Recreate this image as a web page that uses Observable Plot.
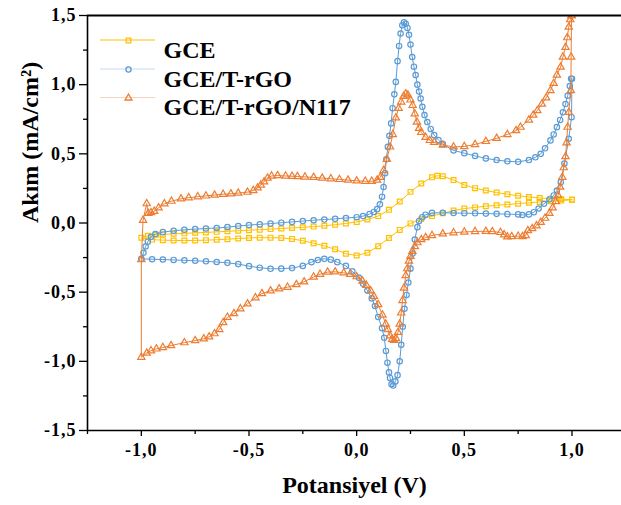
<!DOCTYPE html>
<html><head><meta charset="utf-8">
<script src="https://cdn.jsdelivr.net/npm/d3@7"></script>
<script src="https://cdn.jsdelivr.net/npm/@observablehq/plot@0.6"></script>
<style>
body{margin:0;background:#fff}
#chart{position:relative;width:621px;height:505px}
#chart svg g[aria-label="x-axis tick label"] text, #chart svg g[aria-label="y-axis tick label"] text{letter-spacing:1px}
</style>
</head><body><div id="chart"></div>
<script>
const seriesNames = ["GCE", "GCE/T-rGO", "GCE/T-rGO/N117"];
const seriesColors = ["#FFC000", "#5B9BD5", "#ED7D31"];
const seriesSymbols = ["square", "circle", "triangle"];
const xTicks = [-1, -0.5, 0, 0.5, 1];
const xMinorTicks = [-1.25, -0.75, -0.25, 0.25, 0.75];
const yTicks = [-1.5, -1, -0.5, 0, 0.5, 1, 1.5];
const yMinorTicks = [-1.25, -0.75, -0.25, 0.25, 0.75, 1.25];
const xLabel = "Potansiyel (V)";
const yLabel = "Akım (mA/cm²)";

// [potential V, current mA/cm2] : reverse sweep (1 -> -1) then forward sweep (-1 -> 1)
const gce = [
[1.0,0.168],[0.95,0.162],[0.9,0.157],[0.85,0.152],[0.8,0.146],[0.75,0.140],[0.7,0.134],[0.65,0.128],[0.6,0.121],[0.55,0.113],[0.5,0.104],[0.45,0.090],[0.4,0.070],[0.35,0.050],[0.3,0.028],[0.25,-0.003],[0.2,-0.050],[0.15,-0.108],[0.1,-0.168],[0.05,-0.215],[0.0,-0.235],[-0.05,-0.222],[-0.1,-0.19],[-0.15,-0.165],[-0.2,-0.146],[-0.25,-0.128],[-0.3,-0.115],[-0.35,-0.108],[-0.4,-0.106],[-0.45,-0.106],[-0.5,-0.108],[-0.55,-0.112],[-0.6,-0.117],[-0.65,-0.121],[-0.7,-0.124],[-0.75,-0.126],[-0.8,-0.127],[-0.85,-0.126],[-0.9,-0.124],[-0.95,-0.12],[-1.0,-0.107],
[-0.97,-0.092],[-0.93,-0.085],[-0.9,-0.082],[-0.85,-0.078],[-0.8,-0.075],[-0.75,-0.071],[-0.7,-0.068],[-0.65,-0.064],[-0.6,-0.06],[-0.55,-0.056],[-0.5,-0.052],[-0.45,-0.048],[-0.4,-0.044],[-0.35,-0.04],[-0.3,-0.036],[-0.25,-0.031],[-0.2,-0.026],[-0.15,-0.02],[-0.1,-0.012],[-0.05,-0.003],[0.0,0.008],[0.05,0.025],[0.1,0.05],[0.15,0.095],[0.2,0.155],[0.25,0.225],[0.3,0.285],[0.35,0.33],[0.375,0.342],[0.4,0.338],[0.45,0.31],[0.5,0.275],[0.55,0.252],[0.6,0.235],[0.65,0.22],[0.7,0.208],[0.75,0.197],[0.8,0.188],[0.85,0.181],[0.9,0.176],[0.95,0.172],[1.0,0.168]
];
const gceTrGO = [
[1.0,1.043],[0.998,0.765],[0.985,0.609],[0.965,0.43],[0.948,0.295],[0.93,0.235],[0.915,0.199],[0.895,0.17],[0.87,0.139],[0.845,0.105],[0.823,0.078],[0.8,0.062],[0.77,0.058],[0.75,0.062],[0.7,0.064],[0.65,0.066],[0.6,0.068],[0.55,0.07],[0.5,0.071],[0.45,0.072],[0.4,0.074],[0.35,0.073],[0.32,0.06],[0.305,0.042],[0.29,0.015],[0.282,-0.03],[0.27,-0.12],[0.26,-0.22],[0.25,-0.33],[0.24,-0.43],[0.232,-0.52],[0.222,-0.62],[0.214,-0.75],[0.207,-0.88],[0.2,-1.0],[0.19,-1.1],[0.18,-1.145],[0.17,-1.175],[0.162,-1.165],[0.155,-1.12],[0.15,-1.08],[0.143,-1.01],[0.136,-0.925],[0.128,-0.83],[0.118,-0.76],[0.1,-0.68],[0.085,-0.6],[0.07,-0.545],[0.05,-0.488],[0.03,-0.44],[0.01,-0.395],[-0.02,-0.35],[-0.05,-0.31],[-0.09,-0.283],[-0.12,-0.265],[-0.15,-0.259],[-0.18,-0.268],[-0.21,-0.283],[-0.25,-0.31],[-0.3,-0.326],[-0.35,-0.33],[-0.4,-0.331],[-0.45,-0.323],[-0.5,-0.312],[-0.55,-0.297],[-0.6,-0.288],[-0.65,-0.282],[-0.7,-0.277],[-0.75,-0.273],[-0.8,-0.27],[-0.85,-0.267],[-0.9,-0.264],[-0.95,-0.262],[-1.0,-0.259],
[-0.99,-0.215],[-0.98,-0.17],[-0.97,-0.135],[-0.955,-0.1],[-0.935,-0.08],[-0.9,-0.066],[-0.85,-0.056],[-0.8,-0.049],[-0.75,-0.044],[-0.7,-0.04],[-0.65,-0.036],[-0.6,-0.03],[-0.55,-0.022],[-0.5,-0.015],[-0.45,-0.01],[-0.4,-0.004],[-0.35,0.002],[-0.3,0.008],[-0.25,0.014],[-0.2,0.02],[-0.15,0.025],[-0.1,0.03],[-0.05,0.036],[0.0,0.042],[0.03,0.05],[0.06,0.064],[0.08,0.08],[0.095,0.1],[0.108,0.135],[0.118,0.19],[0.125,0.26],[0.132,0.36],[0.138,0.46],[0.145,0.55],[0.152,0.63],[0.16,0.72],[0.167,0.83],[0.175,0.93],[0.182,1.02],[0.19,1.17],[0.197,1.28],[0.204,1.37],[0.212,1.43],[0.22,1.45],[0.228,1.44],[0.236,1.41],[0.243,1.36],[0.25,1.29],[0.258,1.2],[0.266,1.13],[0.274,1.07],[0.282,1.0],[0.29,0.95],[0.297,0.9],[0.305,0.84],[0.315,0.78],[0.328,0.73],[0.344,0.68],[0.36,0.635],[0.38,0.6],[0.4,0.57],[0.45,0.525],[0.5,0.505],[0.55,0.485],[0.6,0.467],[0.65,0.455],[0.7,0.446],[0.75,0.442],[0.8,0.455],[0.83,0.475],[0.855,0.5],[0.875,0.54],[0.9,0.597],[0.915,0.64],[0.93,0.693],[0.945,0.745],[0.958,0.8],[0.97,0.86],[0.98,0.92],[0.99,0.99],[0.996,1.043]
];
const gceTrGON117 = [
[0.998,1.5],[0.996,1.2],[0.995,0.958],[0.985,0.8],[0.98,0.693],[0.975,0.58],[0.97,0.48],[0.962,0.4],[0.955,0.331],[0.945,0.26],[0.935,0.2],[0.925,0.155],[0.91,0.11],[0.895,0.07],[0.875,0.035],[0.855,0.005],[0.835,-0.02],[0.815,-0.04],[0.795,-0.055],[0.785,-0.09],[0.77,-0.098],[0.75,-0.095],[0.72,-0.098],[0.7,-0.1],[0.685,-0.085],[0.668,-0.068],[0.63,-0.062],[0.6,-0.06],[0.55,-0.061],[0.5,-0.065],[0.45,-0.07],[0.4,-0.078],[0.35,-0.09],[0.32,-0.105],[0.3,-0.12],[0.282,-0.142],[0.27,-0.17],[0.259,-0.205],[0.25,-0.24],[0.243,-0.275],[0.235,-0.33],[0.228,-0.38],[0.22,-0.47],[0.213,-0.56],[0.207,-0.65],[0.2,-0.73],[0.192,-0.79],[0.183,-0.835],[0.174,-0.848],[0.165,-0.84],[0.155,-0.815],[0.145,-0.77],[0.135,-0.73],[0.12,-0.665],[0.1,-0.59],[0.08,-0.53],[0.065,-0.49],[0.045,-0.45],[0.027,-0.42],[0.0,-0.388],[-0.03,-0.37],[-0.06,-0.36],[-0.1,-0.353],[-0.135,-0.355],[-0.17,-0.37],[-0.2,-0.39],[-0.244,-0.425],[-0.28,-0.445],[-0.321,-0.464],[-0.36,-0.476],[-0.4,-0.49],[-0.44,-0.51],[-0.47,-0.54],[-0.507,-0.584],[-0.54,-0.62],[-0.57,-0.655],[-0.6,-0.681],[-0.62,-0.72],[-0.638,-0.77],[-0.66,-0.8],[-0.685,-0.823],[-0.71,-0.837],[-0.75,-0.85],[-0.8,-0.865],[-0.862,-0.886],[-0.9,-0.9],[-0.93,-0.91],[-0.955,-0.923],[-0.975,-0.94],[-1.0,-0.97],
[-1.0,-0.265],[-0.992,0.02],[-0.975,0.14],[-0.968,0.07],[-0.955,0.075],[-0.94,0.085],[-0.92,0.11],[-0.893,0.139],[-0.86,0.158],[-0.816,0.175],[-0.78,0.183],[-0.738,0.19],[-0.7,0.196],[-0.66,0.202],[-0.62,0.208],[-0.584,0.211],[-0.55,0.216],[-0.507,0.223],[-0.48,0.235],[-0.46,0.254],[-0.445,0.275],[-0.43,0.298],[-0.414,0.325],[-0.395,0.34],[-0.367,0.343],[-0.33,0.34],[-0.3,0.338],[-0.275,0.336],[-0.24,0.333],[-0.2,0.33],[-0.16,0.325],[-0.12,0.32],[-0.08,0.315],[-0.04,0.31],[0.0,0.305],[0.04,0.302],[0.07,0.302],[0.095,0.31],[0.11,0.33],[0.125,0.38],[0.14,0.46],[0.155,0.55],[0.168,0.64],[0.182,0.76],[0.195,0.83],[0.207,0.875],[0.218,0.915],[0.228,0.934],[0.238,0.925],[0.25,0.89],[0.26,0.85],[0.27,0.79],[0.28,0.73],[0.29,0.685],[0.3,0.655],[0.32,0.62],[0.34,0.597],[0.36,0.584],[0.4,0.563],[0.45,0.55],[0.5,0.553],[0.55,0.568],[0.6,0.59],[0.65,0.612],[0.7,0.64],[0.74,0.668],[0.761,0.693],[0.8,0.745],[0.82,0.78],[0.839,0.813],[0.86,0.86],[0.88,0.905],[0.9,0.958],[0.915,1.01],[0.93,1.07],[0.947,1.127],[0.958,1.2],[0.97,1.27],[0.978,1.34],[0.985,1.416],[0.992,1.47],[0.998,1.5]
];

const seriesData = [gce, gceTrGO, gceTrGON117];
const fmt = d => d.toFixed(1).replace(".", ",");
const serif = "'Liberation Serif', 'Times New Roman', 'DejaVu Serif', serif";

const marks = [];
seriesData.forEach((arr, k) => {
  const rows = arr.map(([v, i]) => ({series: seriesNames[k], v, i}));
  marks.push(Plot.line(rows, {x: "v", y: "i", stroke: seriesColors[k], strokeWidth: 1, clip: true}));
  marks.push(Plot.dot(rows, {x: "v", y: "i", stroke: seriesColors[k], symbol: seriesSymbols[k], r: 2.7, strokeWidth: 1.2, fill: "none", clip: true}));
});

// legend (inside the frame, top-left)
const legendDy = [25, 54, 82.5];
seriesNames.forEach((name, k) => {
  marks.push(Plot.dot([name], {frameAnchor: "top-left", dx: 41, dy: legendDy[k], stroke: seriesColors[k], symbol: seriesSymbols[k], r: 2.6, strokeWidth: 1.3, fill: "none"}));
  marks.push(Plot.text([name], {frameAnchor: "top-left", dx: 76, dy: legendDy[k], text: d => d, textAnchor: "start", fontSize: 24, fontWeight: "bold", fill: "black"}));
});

marks.push(
  Plot.axisX(xTicks, {tickSize: 6, tickPadding: 7, tickFormat: fmt, fontSize: 18, label: null, strokeWidth: 1.3}),
  Plot.axisX(xMinorTicks, {tickSize: 4, tickFormat: () => "", label: null, strokeWidth: 1.3}),
  Plot.axisY(yTicks, {tickSize: 8, tickPadding: 3, tickFormat: fmt, fontSize: 18, label: null, strokeWidth: 1.3}),
  Plot.axisY(yMinorTicks, {tickSize: 4, tickFormat: () => "", label: null, strokeWidth: 1.3}),
  Plot.ruleX([-1.25], {stroke: "black", strokeWidth: 1.6}),
  Plot.ruleY([-1.5], {stroke: "black", strokeWidth: 1.6}),
  Plot.ruleY([1.5], {stroke: "black", strokeWidth: 2}),
  Plot.text([xLabel], {frameAnchor: "bottom", dy: 62, text: d => d, fontSize: 24, fontWeight: "bold", fill: "black"}),
  Plot.text([yLabel], {frameAnchor: "left", dx: -57, rotate: -90, text: d => d, fontSize: 24, fontWeight: "bold", fill: "black"})
);

const chart = Plot.plot({
  width: 621,
  height: 505,
  marginLeft: 87,
  marginRight: 0,
  marginTop: 15,
  marginBottom: 75,
  x: {domain: [-1.25, 1.23]},
  y: {domain: [-1.5, 1.5]},
  style: {fontFamily: serif, fontWeight: "bold", fontSize: "18px", color: "black", background: "white", overflow: "visible"},
  marks
});
document.getElementById("chart").appendChild(chart);

// legend line samples
const svg = d3.select(chart);
const legendLineColors = [seriesColors[0], "#c6daf0", "#f7d3bb"];
legendLineColors.forEach((c, k) => {
  svg.insert("line", ":first-child")
    .attr("x1", 100).attr("x2", 155)
    .attr("y1", 15 + legendDy[k]).attr("y2", 15 + legendDy[k])
    .attr("stroke", c).attr("stroke-width", 1);
});
</script>
</body></html>
